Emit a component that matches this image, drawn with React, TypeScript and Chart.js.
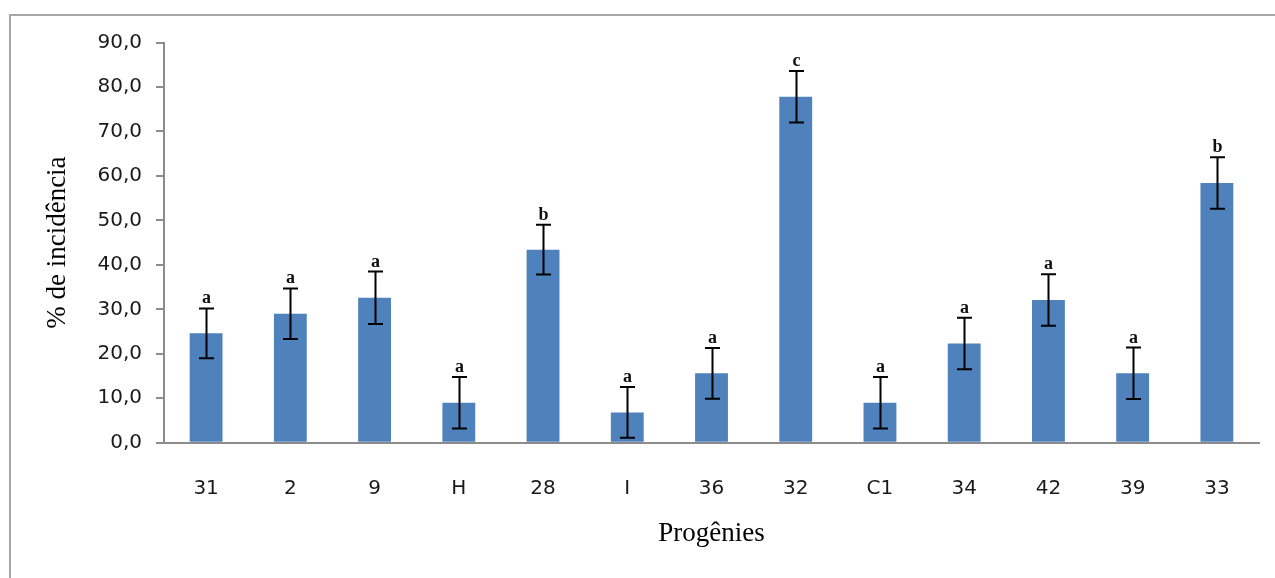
import React, { useEffect, useRef } from "react";
import { Chart, registerables } from "chart.js";

Chart.register(...registerables);

// Progênies e incidência média (%)
const categories = ["31", "2", "9", "H", "28", "I", "36", "32", "C1", "34", "42", "39", "33"];
const incidence = [24.6, 29.0, 32.6, 9.0, 43.4, 6.8, 15.6, 77.8, 9.0, 22.3, 32.1, 15.6, 58.4];
const errors = [5.6, 5.7, 5.9, 5.8, 5.6, 5.7, 5.7, 5.8, 5.8, 5.8, 5.8, 5.8, 5.8];
const groups = ["a", "a", "a", "a", "b", "a", "a", "c", "a", "a", "a", "a", "b"];

const Y_MIN = 0;
const Y_MAX = 90;
const Y_STEP = 10;

const BAR_COLOR = "#4f81bd";
const AXIS_COLOR = "#8c8c8c";
const TICK_FONT = "'DejaVu Sans', Verdana, sans-serif";
const SERIF = "'Liberation Serif', 'Times New Roman', serif";

// Moldura cinza ao redor da área do gráfico
const framePlugin = {
  id: "frame",
  beforeDraw(chart: any) {
    const { ctx } = chart;
    ctx.save();
    ctx.strokeStyle = "#a6a6a6";
    ctx.lineWidth = 2;
    ctx.strokeRect(10, 15, chart.width + 20, chart.height + 20);
    ctx.restore();
  },
};

// Barras de erro e letras de agrupamento acima de cada barra
const errorBarPlugin = {
  id: "errorBars",
  afterDatasetsDraw(chart: any) {
    const { ctx } = chart;
    const yScale = chart.scales.y;
    const meta = chart.getDatasetMeta(0);
    ctx.save();
    ctx.strokeStyle = "#000";
    ctx.lineWidth = 2;
    meta.data.forEach((bar: any, i: number) => {
      const x = Math.round(bar.x) + 0.5;
      const v = incidence[i];
      const e = errors[i];
      const yHi = yScale.getPixelForValue(v + e);
      const yLo = yScale.getPixelForValue(v - e);
      const half = 7.5;
      ctx.beginPath();
      ctx.moveTo(x, yHi);
      ctx.lineTo(x, yLo);
      ctx.moveTo(x - half, yHi);
      ctx.lineTo(x + half, yHi);
      ctx.moveTo(x - half, yLo);
      ctx.lineTo(x + half, yLo);
      ctx.stroke();

      ctx.fillStyle = "#111";
      ctx.font = `bold 18px ${SERIF}`;
      ctx.textAlign = "center";
      ctx.textBaseline = "alphabetic";
      ctx.fillText(groups[i], x, yHi - 5);
    });
    ctx.restore();
  },
};

export default function App() {
  const canvasRef = useRef<HTMLCanvasElement | null>(null);

  useEffect(() => {
    const canvas = canvasRef.current;
    if (!canvas) return;
    const chart = new Chart(canvas, {
      type: "bar",
      data: {
        labels: categories,
        datasets: [
          {
            data: incidence,
            backgroundColor: BAR_COLOR,
            borderWidth: 0,
            barPercentage: 0.39,
            categoryPercentage: 1,
          },
        ],
      },
      options: {
        animation: false,
        responsive: false,
        maintainAspectRatio: false,
        layout: { padding: { top: 42.5, right: 16, bottom: 0, left: 0 } },
        plugins: {
          legend: { display: false },
          tooltip: { enabled: false },
        },
        scales: {
          x: {
            offset: true,
            grid: { display: false },
            border: { display: true, color: AXIS_COLOR, width: 2 },
            ticks: {
              color: "#1a1a1a",
              font: { family: TICK_FONT, size: 20 },
              padding: 26,
              maxRotation: 0,
            },
            title: {
              display: true,
              text: "Progênies",
              color: "#000",
              font: { family: SERIF, size: 27 },
              padding: { top: 0, bottom: 28 },
            },
            afterFit(scale: any) {
              scale.height = 578 - 442.7;
            },
          },
          y: {
            min: Y_MIN,
            max: Y_MAX,
            grid: {
              drawOnChartArea: false,
              drawTicks: true,
              tickLength: 8,
              color: AXIS_COLOR,
              lineWidth: 2,
            },
            border: { display: true, color: AXIS_COLOR, width: 2 },
            ticks: {
              stepSize: Y_STEP,
              color: "#1a1a1a",
              font: { family: TICK_FONT, size: 20 },
              padding: 14,
              callback: (value: any) => Number(value).toFixed(1).replace(".", ","),
            },
            title: {
              display: true,
              text: "% de incidência",
              color: "#000",
              font: { family: SERIF, size: 27 },
              padding: { top: 42, bottom: 0 },
            },
            afterFit(scale: any) {
              scale.width = 164;
            },
          },
        },
      },
      plugins: [framePlugin, errorBarPlugin],
    });
    return () => chart.destroy();
  }, []);

  return (
    <div style={{ position: "absolute", left: 0, top: 0, width: 1275, height: 578, background: "#fff" }}>
      <canvas ref={canvasRef} width={1275} height={578} style={{ width: 1275, height: 578, display: "block" }} />
    </div>
  );
}
